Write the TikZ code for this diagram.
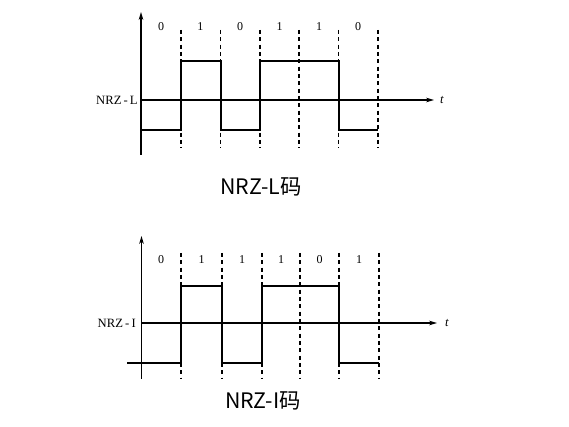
\documentclass[tikz,border=0pt]{standalone}
\usepackage{fontspec}
\setmainfont{Liberation Serif}
\newfontfamily\cjk{Noto Sans CJK SC}
\usetikzlibrary{arrows.meta}
\begin{document}
\begin{tikzpicture}[x=0.75pt,y=-0.75pt,
  axis/.style={line width=1pt},
  axisarrow/.style={axis,-{Stealth[length=6pt,width=3.5pt]}},
  grid/.style={dashed,line width=1pt,dash pattern=on 3pt off 2.5pt},
  wave/.style={line width=1.5pt,line join=miter},
  bit/.style={font=\fontsize{9}{10}\selectfont,inner sep=0pt},
  lbl/.style={font=\fontsize{9.5}{11}\selectfont,inner sep=0pt,anchor=east},
  tl/.style={font=\fontsize{9.5}{11}\selectfont\itshape,inner sep=0pt},
  captext/.style={font=\fontsize{16}{19}\cjk,inner sep=0pt}]
\useasboundingbox (0,0) rectangle (569,427);
% ---------- NRZ-L ----------
\coordinate (a0) at (141,155);
\coordinate (a1) at (141,12);
\coordinate (b0) at (141,100);
\coordinate (b1) at (434,100);
\draw[axisarrow] (a0) -- (a1);
\draw[axisarrow] (b0) -- (b1);
\node[tl] (t1) at (442,100) {t};
\node[lbl] (l1) at (138,100) {NRZ\,-\,L};
\foreach \x in {181,220.5,260,299,338.5,378}
  \draw[grid] (\x,30) -- (\x,148);
\foreach \x/\b in {161/0,200.5/1,240/0,279.5/1,319/1,358/0}
  \node[bit] at (\x,27) {\b};
\draw[wave] (141,130) -- (181,130) -- (181,60.7) -- (220.5,60.7) -- (220.5,130)
  -- (260,130) -- (260,60.7) -- (338.5,60.7) -- (338.5,130) -- (378,130);
\node[captext] (c1) at (261,187) {NRZ-L码};
% ---------- NRZ-I ----------
\coordinate (a2) at (141.5,379);
\coordinate (a3) at (141.5,236);
\coordinate (b2) at (141.5,323);
\coordinate (b3) at (437,323);
\draw[axisarrow] (a2) -- (a3);
\draw[axisarrow] (b2) -- (b3);
\node[tl] (t2) at (447,323) {t};
\node[lbl] (l2) at (136,323) {NRZ\,-\,I};
\foreach \x in {181,222,262,300,339,379}
  \draw[grid] (\x,253) -- (\x,378);
\foreach \x/\b in {161/0,201.5/1,242/1,281/1,319.5/0,359/1}
  \node[bit] at (\x,260) {\b};
\draw[wave] (127,363) -- (181,363) -- (181,286) -- (222,286) -- (222,363)
  -- (262,363) -- (262,286) -- (339,286) -- (339,363) -- (379,363);
\node[captext] (c2) at (263,401) {NRZ-I码};
\end{tikzpicture}
\end{document}
